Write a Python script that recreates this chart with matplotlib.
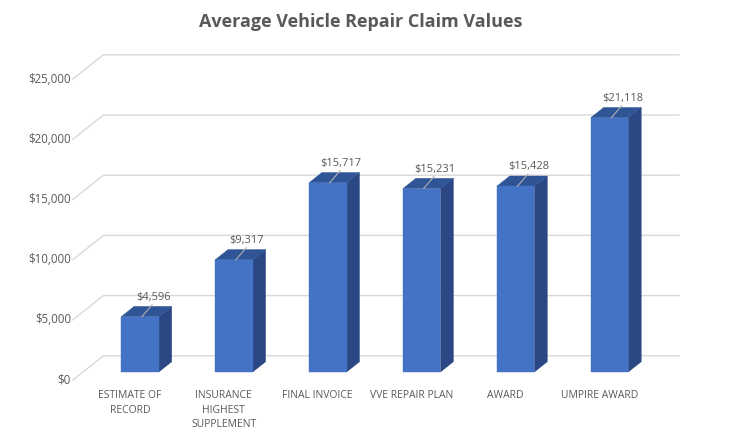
import matplotlib
matplotlib.use("Agg")
import matplotlib.pyplot as plt
from matplotlib.patches import Polygon

categories = ["ESTIMATE OF\nRECORD", "INSURANCE\nHIGHEST\nSUPPLEMENT", "FINAL INVOICE",
              "VVE REPAIR PLAN", "AWARD", "UMPIRE AWARD"]
values = [4596, 9317, 15717, 15231, 15428, 21118]
yticks = [0, 5000, 10000, 15000, 20000, 25000]
title = "Average Vehicle Repair Claim Values"

W, H = 742, 437
fig = plt.figure(figsize=(W / 100, H / 100), dpi=100)
ax = fig.add_axes([0, 0, 1, 1])
ax.set_axis_off()

# pixel geometry of the oblique 3-D frame
x0_px, step_px = 140.0, 93.9          # centre of first bar, spacing
y0_px, per_val = 372.0, 60.2 / 5000   # bar-plane zero line, px per unit value
ax.set_xlim(-x0_px / step_px, (W - x0_px) / step_px)
ax.set_ylim((y0_px - H) / per_val, y0_px / per_val)

# depth direction (px per unit depth) converted to data units
ddx = 34.0 / step_px
ddy = 27.0 / per_val
def P(x, y, z):
    return (x + ddx * z, y + ddy * z)

z_front, z_bar0, z_bar1, z_back = -0.3, 0.0, 0.38, 0.6
x_left = (83 - x0_px) / step_px
x_right = (679 - x0_px) / step_px - ddx * z_back
grid_c = "#d9d9d9"
text_c = "#595959"

for t in yticks:
    a = P(x_left, t, z_front)
    b = P(x_left, t, z_back)
    c = P(x_right, t, z_back)
    ax.plot([a[0], b[0], c[0]], [a[1], b[1], c[1]], color=grid_c, lw=1.0, zorder=1)
    ax.text(a[0] - 0.02, a[1], f"${t:,.0f}", ha="right", va="center",
            fontsize=8.3, color=text_c, family="Open Sans")

hw = 0.2
front_c, top_c, side_c = "#4472c4", "#2f5597", "#2b4884"
for i, v in enumerate(values):
    fl, fr = i - hw, i + hw
    front = [P(fl, 0, z_bar0), P(fr, 0, z_bar0), P(fr, v, z_bar0), P(fl, v, z_bar0)]
    top = [P(fl, v, z_bar0), P(fr, v, z_bar0), P(fr, v, z_bar1), P(fl, v, z_bar1)]
    side = [P(fr, 0, z_bar0), P(fr, 0, z_bar1), P(fr, v, z_bar1), P(fr, v, z_bar0)]
    for poly, col in ((side, side_c), (top, top_c), (front, front_c)):
        ax.add_patch(Polygon(poly, closed=True, facecolor=col, edgecolor=col,
                             lw=0.3, zorder=3 + i * 0.01))
    # leader line and label
    s = (i + 0.02, v)
    e = (i + 0.13, v + 12 / per_val)
    ax.plot([s[0], e[0]], [s[1], e[1]], color="#b0b0b0", lw=0.8, zorder=5)
    ax.text(i + 0.14, v + 14 / per_val, f"${v:,.0f}", ha="center", va="bottom",
            fontsize=8.0, color=text_c, family="Open Sans", zorder=6)
    lx, ly = P(i, -10 / per_val, z_front)
    ax.text(lx, ly, categories[i], ha="center", va="top",
            fontsize=7.5, color=text_c, family="Open Sans", linespacing=1.45)

fig.text(0.4858, 1 - 22 / H, title, ha="center", va="center", fontsize=13,
         fontweight="bold", color=text_c, family="Open Sans")

fig.savefig("out.png", dpi=100)
